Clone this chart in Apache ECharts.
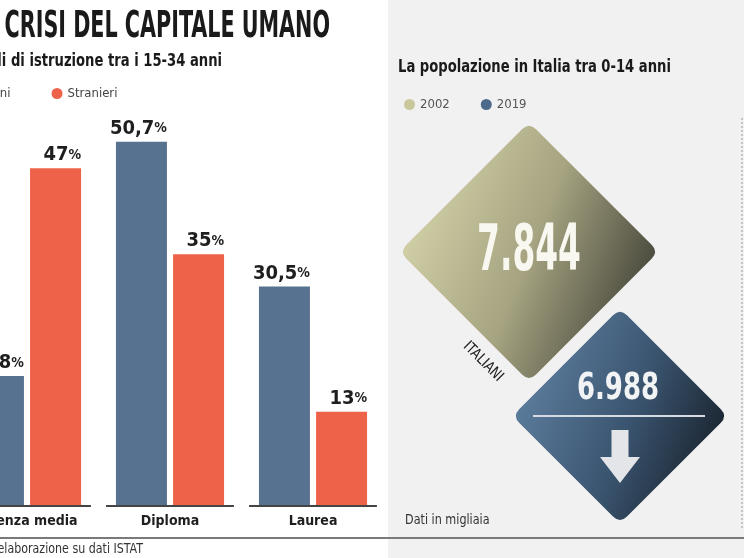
<!DOCTYPE html>
<html>
<head>
<meta charset="utf-8">
<script src="https://cdn.jsdelivr.net/npm/echarts@6/dist/echarts.min.js"></script>
<style>
html, body { margin: 0; padding: 0; background: #fff; }
#main { width: 744px; height: 558px; }
</style>
</head>
<body>
<div id="main"></div>
<script>
// livelli di istruzione tra i 15-34 anni (%)
var livelli = ['Licenza media', 'Diploma', 'Laurea'];
var italiani = [18, 50.7, 30.5];
var stranieri = [47, 35, 13];
// popolazione in Italia tra 0-14 anni (migliaia)
var anni = ['2002', '2019'];
var popolazione = [7844, 6988];

var NARROW = '"DejaVu Sans Condensed", "Liberation Sans Narrow", sans-serif';
var BLU = '#577190', ROSSO = '#ef624a', OLIVA = '#c9c79c', BLU2 = '#4c6b8c';

var myChart = echarts.init(document.getElementById('main'));

function migliaia(v) { return String(v).replace(/\B(?=(\d{3})+(?!\d))/g, '.'); }

var barLabel = {
  show: true,
  position: ['100%', 0],
  align: 'right',
  verticalAlign: 'bottom',
  padding: [0, 0, 3, 0],
  formatter: function (p) { return '{n|' + String(p.value).replace('.', ',') + '}{p|%}'; },
  rich: {
    n: { fontFamily: NARROW, fontWeight: 'bold', fontSize: 20, color: '#1e1e1e' },
    p: { fontFamily: NARROW, fontWeight: 'bold', fontSize: 14, color: '#1e1e1e' }
  }
};

// rombo con angoli arrotondati, grandezza legata al valore
function rombo(gradiente, extra) {
  return function (params, api) {
    var v = api.value(1);
    var c = api.coord([api.value(0), v]);
    var cx = c[0], cy = c[1];
    var h = (v - 2800) * 0.0257;
    var k = 7;
    var d = 'M' + (cx - k) + ',' + (cy - h + k) +
      'Q' + cx + ',' + (cy - h) + ',' + (cx + k) + ',' + (cy - h + k) +
      'L' + (cx + h - k) + ',' + (cy - k) +
      'Q' + (cx + h) + ',' + cy + ',' + (cx + h - k) + ',' + (cy + k) +
      'L' + (cx + k) + ',' + (cy + h - k) +
      'Q' + cx + ',' + (cy + h) + ',' + (cx - k) + ',' + (cy + h - k) +
      'L' + (cx - h + k) + ',' + (cy + k) +
      'Q' + (cx - h) + ',' + cy + ',' + (cx - h + k) + ',' + (cy - k) + 'Z';
    var children = [{
      type: 'path',
      shape: { pathData: d },
      style: { fill: gradiente }
    }];
    return { type: 'group', children: children.concat(extra(cx, cy, h, v)) };
  };
}

var option = {
  animation: false,
  grid: [
    { left: -44.5, top: 75, width: 429, bottom: 53, outerBoundsMode: 'none' },
    { left: 483.5, top: 126, width: 182, bottom: 48.5, outerBoundsMode: 'none' }
  ],
  legend: [
    {
      data: ['Italiani', 'Stranieri'],
      left: -50, top: 82,
      icon: 'circle', itemWidth: 11, itemHeight: 11, itemGap: 41,
      textStyle: { fontFamily: NARROW, fontSize: 13, color: '#444' }
    },
    {
      data: anni,
      left: 399, top: 93,
      icon: 'circle', itemWidth: 11, itemHeight: 11, itemGap: 31,
      textStyle: { fontFamily: NARROW, fontSize: 13, color: '#555' }
    }
  ],
  xAxis: [
    {
      type: 'category', gridIndex: 0, data: livelli,
      axisLine: { show: false }, axisTick: { show: false },
      axisLabel: { interval: 0, margin: 9, fontFamily: NARROW, fontWeight: 'bold', fontSize: 14, color: '#1e1e1e' }
    },
    { type: 'category', gridIndex: 1, data: anni, show: false }
  ],
  yAxis: [
    { type: 'value', gridIndex: 0, min: 0, max: 60, show: false },
    { type: 'value', gridIndex: 1, min: 6500, max: 8500, show: false }
  ],
  graphic: [
    { type: 'rect', z: -10, shape: { x: 388, y: 0, width: 356, height: 558 }, style: { fill: '#f1f1f1' } },
    { type: 'line', shape: { x1: 742, y1: 118, x2: 742, y2: 530 }, style: { stroke: '#9a9a9a', lineWidth: 1, lineDash: [2, 2] } },
    { type: 'line', shape: { x1: 0, y1: 538, x2: 744, y2: 538 }, style: { stroke: '#7a7a7a', lineWidth: 2 } },
    {
      type: 'text', x: 330, y: 27, scaleX: 0.605,
      style: { text: 'LA CRISI DEL CAPITALE UMANO', align: 'right', verticalAlign: 'middle',
        fontFamily: NARROW, fontWeight: 'bold', fontSize: 38, fill: '#1a1a1a' }
    },
    {
      type: 'text', x: 222, y: 62, scaleX: 0.86,
      style: { text: 'Livelli di istruzione tra i 15-34 anni', align: 'right', verticalAlign: 'middle',
        fontFamily: NARROW, fontWeight: 'bold', fontSize: 17, fill: '#1a1a1a' }
    },
    {
      type: 'text', x: 398, y: 68, scaleX: 0.86,
      style: { text: 'La popolazione in Italia tra 0-14 anni', align: 'left', verticalAlign: 'middle',
        fontFamily: NARROW, fontWeight: 'bold', fontSize: 17, fill: '#1a1a1a' }
    },
    {
      type: 'text', x: 143, y: 549, scaleX: 0.88,
      style: { text: 'Fonte: elaborazione su dati ISTAT', align: 'right', verticalAlign: 'middle',
        fontFamily: NARROW, fontSize: 14, fill: '#333' }
    },
    {
      type: 'text', x: 405, y: 520, scaleX: 0.89,
      style: { text: 'Dati in migliaia', align: 'left', verticalAlign: 'middle',
        fontFamily: NARROW, fontSize: 14, fill: '#333' }
    }
  ],
  series: [
    {
      name: 'Italiani', type: 'bar', xAxisIndex: 0, yAxisIndex: 0,
      data: italiani, barWidth: 51, barGap: '12%',
      itemStyle: { color: BLU }, label: barLabel
    },
    {
      name: 'Stranieri', type: 'bar', xAxisIndex: 0, yAxisIndex: 0,
      data: stranieri, barWidth: 51, barGap: '12%',
      itemStyle: { color: ROSSO }, label: barLabel
    },
    {
      // linea di base spezzata per ogni categoria
      type: 'custom', xAxisIndex: 0, yAxisIndex: 0, silent: true, z: 3,
      data: livelli.map(function (l) { return [l, 0]; }),
      encode: { x: 0, y: 1 },
      renderItem: function (params, api) {
        var p = api.coord([api.value(0), 0]);
        var w = api.size([1, 0])[0] * 0.447;
        return { type: 'line', shape: { x1: p[0] - w, y1: p[1] + 1, x2: p[0] + w, y2: p[1] + 1 },
          style: { stroke: '#444', lineWidth: 2 } };
      }
    },
    {
      name: anni[0], type: 'custom', xAxisIndex: 1, yAxisIndex: 1,
      itemStyle: { color: OLIVA },
      data: [[anni[0], popolazione[0]]],
      encode: { x: 0, y: 1 },
      renderItem: rombo(new echarts.graphic.LinearGradient(0, 0.3, 1, 0.7, [
        { offset: 0, color: '#d6d4aa' },
        { offset: 0.5, color: '#a6a481' },
        { offset: 1, color: '#404036' }
      ]), function (cx, cy, h, v) {
        return [
          { type: 'text', x: cx, y: cy + 2, scaleX: 0.57,
            style: { text: migliaia(v), align: 'center', verticalAlign: 'middle',
              fontFamily: NARROW, fontWeight: 'bold', fontSize: 64, fill: '#f8f7f0' } },
          { type: 'text', x: cx - 46, y: cy + 110, rotation: -Math.PI / 4, scaleX: 0.9,
            style: { text: 'ITALIANI', align: 'center', verticalAlign: 'middle',
              fontFamily: NARROW, fontSize: 15, fill: '#222' } }
        ];
      })
    },
    {
      name: anni[1], type: 'custom', xAxisIndex: 1, yAxisIndex: 1,
      itemStyle: { color: BLU2 },
      data: [[anni[1], popolazione[1]]],
      encode: { x: 0, y: 1 },
      renderItem: rombo(new echarts.graphic.LinearGradient(0, 0.3, 1, 0.7, [
        { offset: 0, color: '#5f80a1' },
        { offset: 0.55, color: '#3a546f' },
        { offset: 1, color: '#18212b' }
      ]), function (cx, cy, h, v) {
        return [
          { type: 'text', x: cx - 2, y: cy - 27, scaleX: 0.76,
            style: { text: migliaia(v), align: 'center', verticalAlign: 'middle',
              fontFamily: NARROW, fontWeight: 'bold', fontSize: 38, fill: '#f2f3f4' } },
          { type: 'line', shape: { x1: cx - 87, y1: cy, x2: cx + 85, y2: cy },
            style: { stroke: '#d5dbe2', lineWidth: 2 } },
          { type: 'polygon', shape: { points: [
              [cx - 8.5, cy + 14], [cx + 8.5, cy + 14], [cx + 8.5, cy + 41], [cx + 20, cy + 41],
              [cx, cy + 67], [cx - 20, cy + 41], [cx - 8.5, cy + 41]] },
            style: { fill: '#e3e5e8' } }
        ];
      })
    }
  ]
};

myChart.setOption(option);
</script>
</body>
</html>
